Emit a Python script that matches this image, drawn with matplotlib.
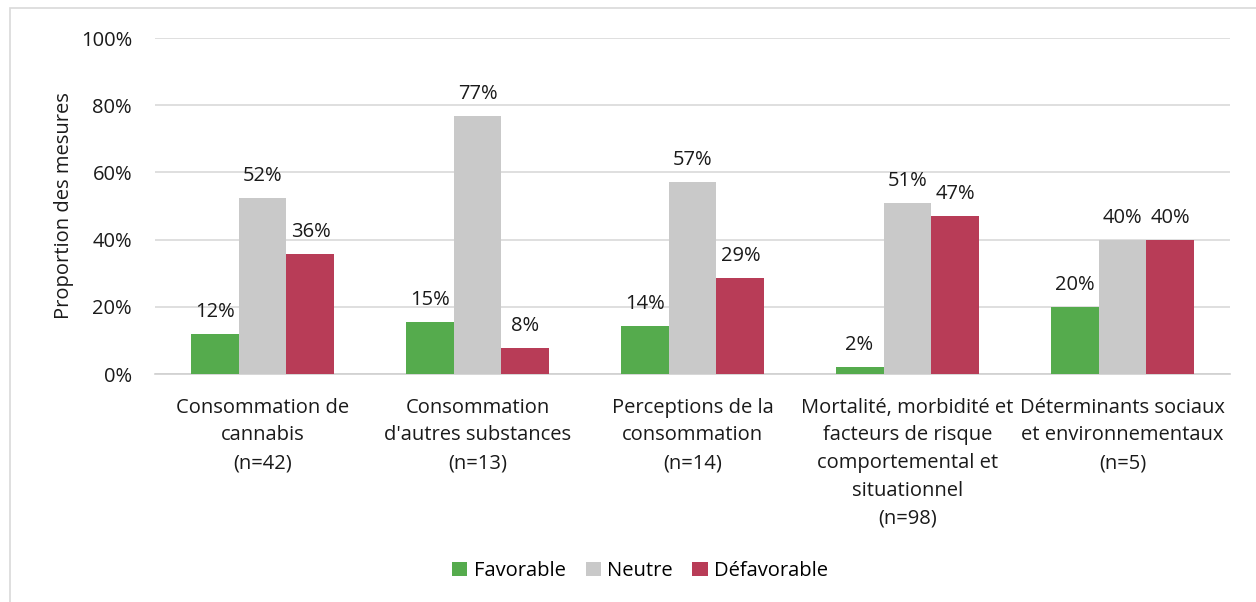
import matplotlib.pyplot as plt
import numpy as np
from matplotlib.patches import Rectangle

plt.rcParams['font.family'] = ['Open Sans', 'DejaVu Sans']

categories = ["Consommation de\ncannabis\n(n=42)",
              "Consommation\nd'autres substances\n(n=13)",
              "Perceptions de la\nconsommation\n(n=14)",
              "Mortalité, morbidité et\nfacteurs de risque\ncomportemental et\nsituationnel\n(n=98)",
              "Déterminants sociaux\net environnementaux\n(n=5)"]
favorable = [11.9, 15.4, 14.3, 2.0, 20.0]
neutre = [52.4, 76.9, 57.1, 51.0, 40.0]
defavorable = [35.7, 7.7, 28.6, 46.9, 40.0]
series = [("Favorable", favorable, '#55ab4d'),
          ("Neutre", neutre, '#c9c9c9'),
          ("Défavorable", defavorable, '#b83c57')]

fs = 14.5
txt = '#1a1a1a'

fig = plt.figure(figsize=(12.56, 6.02), dpi=100)
ax = fig.add_axes([155 / 1256, 1 - 374 / 602, 1075 / 1256, 336 / 602])

# outer chart border
fig.patches.append(Rectangle((10 / 1256, -0.1), 1.2, (602 - 8) / 602 + 0.1,
                             transform=fig.transFigure, fill=False,
                             edgecolor='#d9d9d9', linewidth=1.2))

x = np.arange(len(categories))
w = 0.223
for i, (name, vals, color) in enumerate(series):
    pos = x + (i - 1) * w
    ax.bar(pos, vals, w, color=color, label=name, zorder=3)
    for p, v in zip(pos, vals):
        ax.text(p, v + 3.6, f"{v:.0f}%", ha='center', va='bottom',
                fontsize=fs, color=txt)

ax.set_xlim(-0.5, len(categories) - 0.5)
ax.set_ylim(0, 100)
ax.set_yticks(range(0, 101, 20))
ax.set_yticklabels([f"{t}%" for t in range(0, 101, 20)])
ax.yaxis.grid(True, color='#d9d9d9', linewidth=1.2, zorder=0)
ax.set_xticks(x)
ax.set_xticklabels(categories, fontsize=fs, color=txt, linespacing=1.52)
ax.tick_params(axis='y', labelsize=fs, labelcolor=txt, length=0, pad=16.5)
ax.tick_params(axis='x', length=0, pad=17)
for s in ['top', 'right', 'left']:
    ax.spines[s].set_visible(False)
ax.spines['bottom'].set_color('#d0d0d0')
ax.spines['bottom'].set_linewidth(1.2)
ax.set_ylabel("Proportion des mesures", fontsize=fs, color=txt, labelpad=5)

fig.legend(loc='center', bbox_to_anchor=(640 / 1256, 1 - 571 / 602), ncol=3,
           frameon=False, fontsize=fs, handlelength=0.75, handleheight=0.75,
           handletextpad=0.3, columnspacing=1.0)

fig.savefig('out.png', dpi=100)
